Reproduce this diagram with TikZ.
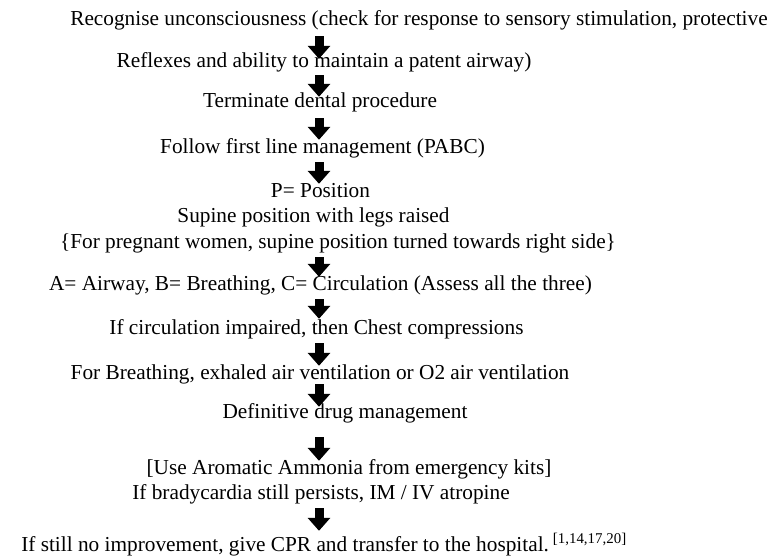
\documentclass[tikz,border=0pt]{standalone}
\usepackage{fontspec}
\setmainfont{Liberation Serif}
\usepackage{tikz}
\usetikzlibrary{arrows.meta,calc}
\tikzset{
  ln/.style={font=\fontsize{21.3pt}{25pt}\selectfont, inner sep=0pt, text height=13pt, text depth=9pt, anchor=base},
  arr/.style={line width=9pt, -{Triangle[width=22pt,length=13pt]}, color=black},
}

\begin{document}
\begin{tikzpicture}[x=1pt,y=-1pt]
    \fill[white] (0,0) rectangle (769,558);
    \useasboundingbox (0,0) rectangle (769,558);
    \coordinate (col) at (319,0);
    \foreach \nm/\x/\y/\tx in {
      s1/419/25/{Recognise unconsciousness (check for response to sensory stimulation, protective},
      s2/324/67/{Reflexes and ability to maintain a patent airway)},
      s3/320/107/{Terminate dental procedure},
      s4/322.5/153/{Follow first line management (PABC)},
      s5/320.5/197/{P= Position},
      s6/313.5/222/{Supine position with legs raised},
      s7/338/248/{\{For pregnant women, supine position turned towards right side\}},
      s8/320.5/290/{A= Airway, B= Breathing, C= Circulation (Assess all the three)},
      s9/316.5/334/{If circulation impaired, then Chest compressions},
      s10/320/379/{For Breathing, exhaled air ventilation or O2 air ventilation},
      s11/345/418/{Definitive drug management},
      s12/349/474/{[Use Aromatic Ammonia from emergency kits]},
      s13/321/499/{If bradycardia still persists, IM / IV atropine},
      s14/324/551/{If still no improvement, give CPR and transfer to the hospital.\kern4pt\textsuperscript{[1,14,17,20]}}}
    { \node[ln] (\nm) at (\x,\y) {\tx}; }
    % down arrows, start/end trimmed per gap
    \foreach \a/\b/\s/\e in {s1/s2/2/-5, s2/s3/-1/-3, s3/s4/2/0, s4/s5/0/0, s7/s8/0/0,
      s8/s9/0/2, s9/s10/0/0, s10/s11/-4/-2, s11/s12/10/0, s13/s14/0/7}
    { \draw[arr, shorten <=\s pt, shorten >=\e pt] (\a.south -| col) -- (\b.north -| col); }
\end{tikzpicture}
\end{document}
